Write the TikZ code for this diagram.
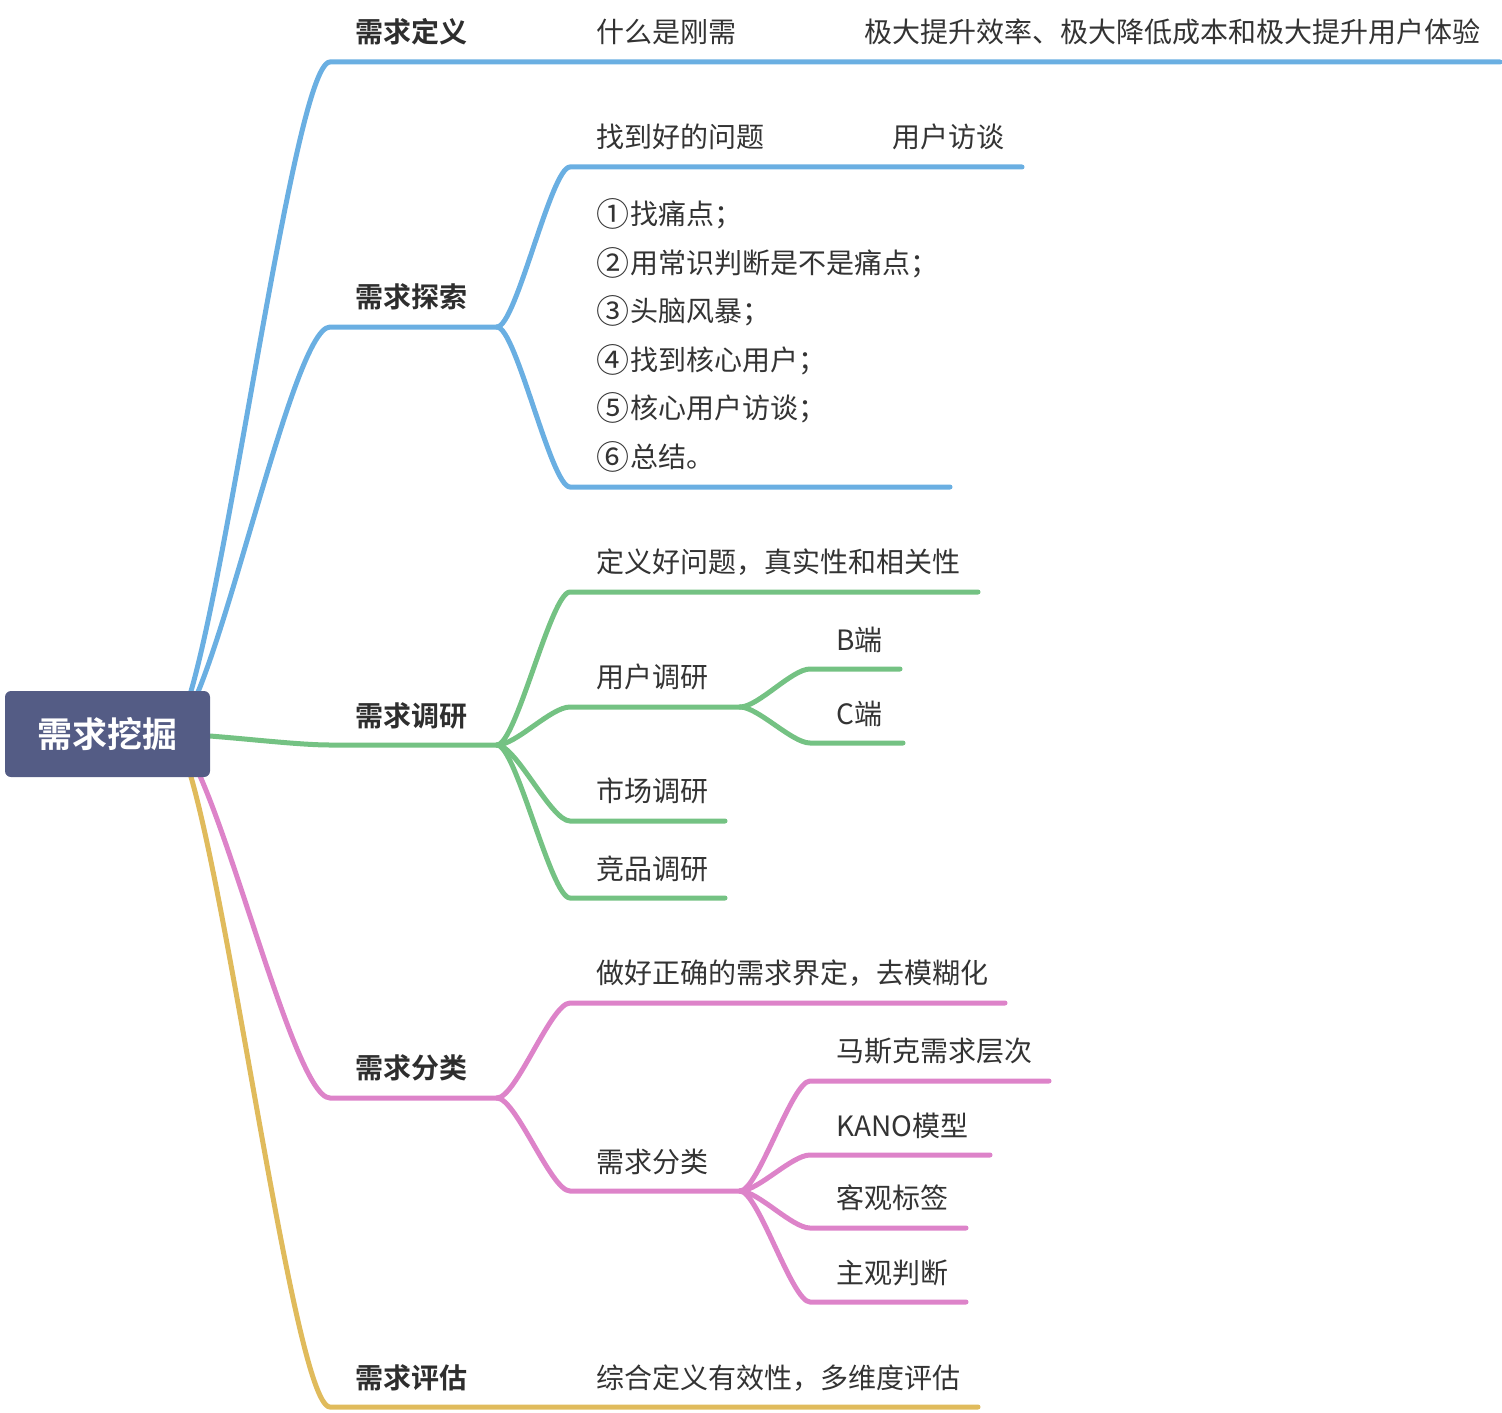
\documentclass[tikz,border=0pt]{standalone}
\usepackage{fontspec}
\setmainfont{Noto Sans CJK SC}[BoldFont={Noto Sans CJK SC Bold}]
\usetikzlibrary{backgrounds,calc}
\definecolor{cblue}{HTML}{6AAFE2}
\definecolor{cgreen}{HTML}{74C283}
\definecolor{cpink}{HTML}{DD83C9}
\definecolor{cyellow}{HTML}{E0BB5C}
\definecolor{croot}{HTML}{545C85}
\definecolor{ctext}{HTML}{333333}
\newcommand\circnum[1]{\raisebox{-0.07em}{\scalebox{1.18}{#1}}\kern0.04em}
\tikzset{
  lvlone/.style={anchor=west, inner sep=0pt, text=ctext!90!black, font=\bfseries\fontsize{14}{16}\selectfont},
  leaf/.style={anchor=west, inner sep=0pt, text=ctext, font=\fontsize{14}{16}\selectfont},
  br/.style={line width=2.5pt, line cap=round},
  rootbox/.style={rectangle, rounded corners=3pt, fill=croot, text=white, minimum width=102.5pt, minimum height=43pt, inner sep=0pt, font=\bfseries\fontsize{17.5}{20}\selectfont},
}
\begin{document}
\begin{tikzpicture}[x=0.5pt, y=-0.5pt]
\useasboundingbox (0,0) rectangle (1502,1412);
% root
\node[rootbox] (root) at (107.5,734) {需求挖掘};
\coordinate (rs) at ($(root.center)+(62.5,0)$);
% level 1 labels
\node[lvlone] (def) at (355,32) {需求定义};
\node[lvlone] (exp) at (355,297) {需求探索};
\node[lvlone] (res) at (355,716) {需求调研};
\node[lvlone] (cls) at (355,1068) {需求分类};
\node[lvlone] (eva) at (355,1378) {需求评估};
% level 1 underline coordinates
\coordinate (def-s) at (330,62);
\coordinate (exp-s) at (330,327); \coordinate (exp-e) at (497,327);
\coordinate (res-s) at (330,745); \coordinate (res-e) at (497,745);
\coordinate (cls-s) at (330,1098); \coordinate (cls-e) at (497,1098);
\coordinate (eva-s) at (330,1407);
% leaves
\node[leaf] (gx) at (596,32) {什么是刚需};
\node[leaf] (gx2) at (864,32) {极大提升效率、极大降低成本和极大提升用户体验};
\coordinate (def-e) at (1500,62);
\node[leaf] (q) at (596,137) {找到好的问题};
\node[leaf] (q2) at (892,137) {用户访谈};
\coordinate (q-s) at (570,167); \coordinate (q-e) at (1022,167);
\node[leaf, align=left, font=\fontsize{14}{24.3}\selectfont] (steps) at (596,335.5)
  {\circnum{①}找痛点；\\\circnum{②}用常识判断是不是痛点；\\\circnum{③}头脑风暴；\\\circnum{④}找到核心用户；\\\circnum{⑤}核心用户访谈；\\\circnum{⑥}总结。};
\coordinate (steps-s) at (570,487); \coordinate (steps-e) at (950,487);
\node[leaf] (r1) at (596,562) {定义好问题，真实性和相关性};
\coordinate (r1-s) at (570,592); \coordinate (r1-e) at (978,592);
\node[leaf] (r2) at (596,677) {用户调研};
\coordinate (r2-s) at (570,707); \coordinate (r2-e) at (740,707);
\node[leaf] (rb) at (836,640) {B端};
\coordinate (rb-s) at (810,669); \coordinate (rb-e) at (900,669);
\node[leaf] (rc) at (836,714) {C端};
\coordinate (rc-s) at (810,743); \coordinate (rc-e) at (903,743);
\node[leaf] (r3) at (596,791) {市场调研};
\coordinate (r3-s) at (570,821); \coordinate (r3-e) at (725,821);
\node[leaf] (r4) at (596,869) {竞品调研};
\coordinate (r4-s) at (570,898); \coordinate (r4-e) at (725,898);
\node[leaf] (c1) at (596,973) {做好正确的需求界定，去模糊化};
\coordinate (c1-s) at (570,1003); \coordinate (c1-e) at (1005,1003);
\node[leaf] (c2) at (596,1162) {需求分类};
\coordinate (c2-s) at (570,1191); \coordinate (c2-e) at (740,1191);
\node[leaf] (k1) at (836,1051) {马斯克需求层次};
\coordinate (k1-s) at (810,1081); \coordinate (k1-e) at (1049,1081);
\node[leaf] (k2) at (836,1126) {KANO模型};
\coordinate (k2-s) at (810,1155); \coordinate (k2-e) at (990,1155);
\node[leaf] (k3) at (836,1198) {客观标签};
\coordinate (k3-s) at (810,1228); \coordinate (k3-e) at (966,1228);
\node[leaf] (k4) at (836,1273) {主观判断};
\coordinate (k4-s) at (810,1302); \coordinate (k4-e) at (966,1302);
\node[leaf] (e1) at (596,1378) {综合定义有效性，多维度评估};
\coordinate (eva-e) at (978,1407);
\begin{scope}[on background layer]
% blue
\draw[br, cblue] (rs) .. controls +(40,0) and +(-40,0) .. (def-s) -- (def-e);
\draw[br, cblue] (rs) .. controls +(40,0) and +(-40,0) .. (exp-s) -- (exp-e);
\draw[br, cblue] (exp-e) .. controls +(19,0) and +(-19,0) .. (q-s) -- (q-e);
\draw[br, cblue] (exp-e) .. controls +(19,0) and +(-19,0) .. (steps-s) -- (steps-e);
% green
\draw[br, cgreen] (rs) .. controls +(40,0) and +(-40,0) .. (res-s) -- (res-e);
\draw[br, cgreen] (res-e) .. controls +(19,0) and +(-19,0) .. (r1-s) -- (r1-e);
\draw[br, cgreen] (res-e) .. controls +(19,0) and +(-19,0) .. (r2-s) -- (r2-e);
\draw[br, cgreen] (r2-e) .. controls +(18,0) and +(-18,0) .. (rb-s) -- (rb-e);
\draw[br, cgreen] (r2-e) .. controls +(18,0) and +(-18,0) .. (rc-s) -- (rc-e);
\draw[br, cgreen] (res-e) .. controls +(19,0) and +(-19,0) .. (r3-s) -- (r3-e);
\draw[br, cgreen] (res-e) .. controls +(19,0) and +(-19,0) .. (r4-s) -- (r4-e);
% pink
\draw[br, cpink] (rs) .. controls +(40,0) and +(-40,0) .. (cls-s) -- (cls-e);
\draw[br, cpink] (cls-e) .. controls +(19,0) and +(-19,0) .. (c1-s) -- (c1-e);
\draw[br, cpink] (cls-e) .. controls +(19,0) and +(-19,0) .. (c2-s) -- (c2-e);
\draw[br, cpink] (c2-e) .. controls +(18,0) and +(-18,0) .. (k1-s) -- (k1-e);
\draw[br, cpink] (c2-e) .. controls +(18,0) and +(-18,0) .. (k2-s) -- (k2-e);
\draw[br, cpink] (c2-e) .. controls +(18,0) and +(-18,0) .. (k3-s) -- (k3-e);
\draw[br, cpink] (c2-e) .. controls +(18,0) and +(-18,0) .. (k4-s) -- (k4-e);
% yellow
\draw[br, cyellow] (rs) .. controls +(40,0) and +(-40,0) .. (eva-s) -- (eva-e);
\end{scope}
\end{tikzpicture}
\end{document}
